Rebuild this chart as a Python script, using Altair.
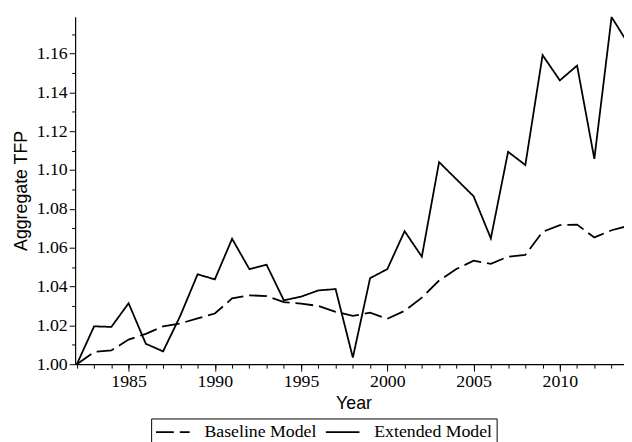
import altair as alt
import pandas as pd

years = list(range(1982, 2015))
baseline = [1.000, 1.0063, 1.0071, 1.0127, 1.0156, 1.0195, 1.021, 1.0236, 1.0261,
            1.0339, 1.0355, 1.0351, 1.032, 1.0312, 1.030, 1.027, 1.0249, 1.0265,
            1.0234, 1.0275, 1.0343, 1.0431, 1.049, 1.0533, 1.0517, 1.0554, 1.0563,
            1.0682, 1.0716, 1.0719, 1.0653, 1.069, 1.0713]
extended = [1.000, 1.0195, 1.0192, 1.0314, 1.0105, 1.0066, 1.025, 1.0463, 1.0437,
            1.0646, 1.049, 1.0512, 1.0329, 1.0348, 1.038, 1.0387, 1.0034, 1.0443,
            1.049, 1.0685, 1.0554, 1.1041, 1.0953, 1.0865, 1.0648, 1.1094, 1.1026,
            1.1592, 1.1462, 1.1538, 1.1058, 1.1788, 1.1646]
series_names = ["Baseline Model", "Extended Model"]

x_major = [1985, 1990, 1995, 2000, 2005, 2010]
x_minor = list(range(1982, 2014))
y_major = [1.00, 1.02, 1.04, 1.06, 1.08, 1.10, 1.12, 1.14, 1.16]
y_minor = [1.01, 1.03, 1.05, 1.07, 1.09, 1.11, 1.13, 1.15, 1.17]

rows = []
for name, vals in zip(series_names, [baseline, extended]):
    for yr, v in zip(years, vals):
        rows.append({"year": yr, "value": v, "model": name})
df = pd.DataFrame(rows)

xscale = alt.Scale(domain=[1981.9, 2013.72], nice=False, zero=False)
yscale = alt.Scale(domain=[1.0, 1.179], nice=False, zero=False)

serif = "Times New Roman, Liberation Serif, serif"
sans = "Arial, Liberation Sans, sans-serif"

x_major_axis = alt.Axis(
    orient="bottom", values=x_major, format="d", tickSize=7, tickColor="black",
    tickWidth=1, domainColor="black", domainWidth=1.2, labelFont=serif,
    labelFontSize=18, labelColor="black", labelPadding=2, grid=False,
    title="Year", titleFont=sans, titleFontSize=18, titleFontWeight="normal",
    titleColor="black", titleX=282, titleY=45, titleBaseline="alphabetic",
    titleAlign="center",
)
x_minor_axis = alt.Axis(
    orient="bottom", values=x_minor, tickSize=4, tickColor="black", tickWidth=1,
    labels=False, domain=False, grid=False, title=None,
)
y_major_axis = alt.Axis(
    orient="left", values=y_major, format=".2f", tickSize=6, tickColor="black",
    tickWidth=1, domainColor="black", domainWidth=1.2, labelFont=serif,
    labelFontSize=18, labelColor="black", labelPadding=2, grid=False,
    title="Aggregate TFP", titleFont=sans, titleFontSize=18,
    titleFontWeight="normal", titleColor="black", titleX=-49, titleY=176,
    titleAngle=270, titleBaseline="alphabetic", titleAlign="center",
)
y_minor_axis = alt.Axis(
    orient="left", values=y_minor, tickSize=3.5, tickColor="black", tickWidth=1,
    labels=False, domain=False, grid=False, title=None,
)

minor = alt.Chart(df).mark_line(opacity=0).encode(
    x=alt.X("year:Q", scale=xscale, axis=x_minor_axis),
    y=alt.Y("value:Q", scale=yscale, axis=y_minor_axis),
    detail="model:N",
)

lines = alt.Chart(df).mark_line(strokeWidth=1.8, clip=True, color="black").encode(
    x=alt.X("year:Q", scale=xscale, axis=x_major_axis),
    y=alt.Y("value:Q", scale=yscale, axis=y_major_axis),
    strokeDash=alt.StrokeDash(
        "model:N",
        scale=alt.Scale(domain=series_names, range=[[18, 6], [1, 0]]),
        legend=alt.Legend(
            title=None, orient="none", legendX=77, legendY=407,
            direction="horizontal", symbolType="M-1,0H3", symbolSize=289,
            symbolStrokeWidth=1.8, symbolStrokeColor="black",
            symbolFillColor="transparent",
            labelFont=serif, labelFontSize=18, labelColor="black",
            labelOffset=31, columnPadding=5, padding=4,
            strokeColor="black", fillColor="white",
        ),
    ),
)

chart = alt.layer(minor, lines).resolve_axis(
    x="independent", y="independent"
).properties(
    width=556, height=352,
    autosize=alt.AutoSizeParams(type="none"),
    padding={"left": 68, "top": 6, "right": 0, "bottom": 76},
    background="white",
).configure_view(stroke=None).configure_axis(
    labelFont=serif, titleFont=sans
)

chart.save("out.html", embed_options={"renderer": "svg", "actions": False})
